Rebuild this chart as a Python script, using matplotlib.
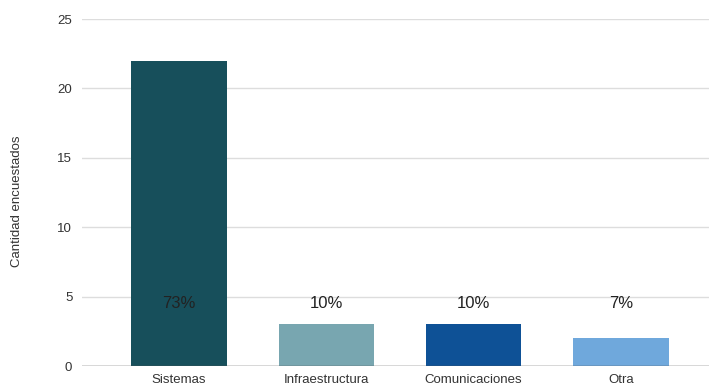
import matplotlib
matplotlib.use("Agg")
import matplotlib.pyplot as plt

plt.rcParams['font.family'] = ['Liberation Sans', 'DejaVu Sans']

categorias = ['Sistemas', 'Infraestructura', 'Comunicaciones', 'Otra']
cantidad = [22, 3, 3, 2]
porcentajes = ['73%', '10%', '10%', '7%']
colores = ['#174f5b', '#78a6b0', '#0e5196', '#6fa8dc']
altura_etiqueta = 4.5

fig = plt.figure(figsize=(7.09, 3.90), dpi=100)
ax = fig.add_axes([0.1157, 0.0615, 0.8843, 0.8895])

x = range(len(categorias))
ax.bar(x, cantidad, width=0.65, color=colores, zorder=3)
for i, p in enumerate(porcentajes):
    ax.text(i, altura_etiqueta, p, ha='center', va='center', fontsize=12, color='#222222', zorder=4)

ax.set_xlim(-0.66, 3.6)
ax.set_ylim(0, 25)
ax.set_yticks([0, 5, 10, 15, 20, 25])
ax.set_xticks(list(x))
ax.set_xticklabels(categorias)
ax.grid(axis='y', color='#dddddd', linewidth=1, zorder=0)
ax.axhline(0, color='#555555', linewidth=1, zorder=4)
for s in ax.spines.values():
    s.set_visible(False)
ax.tick_params(axis='both', length=0, labelsize=9.5, colors='#333333')
ax.tick_params(axis='y', pad=7)
ax.tick_params(axis='x', pad=6)
ax.set_ylabel('Cantidad encuestados', fontsize=9.5, color='#333333')
ax.yaxis.set_label_coords(-0.094, 0.475)

fig.savefig('out.png', dpi=100)
